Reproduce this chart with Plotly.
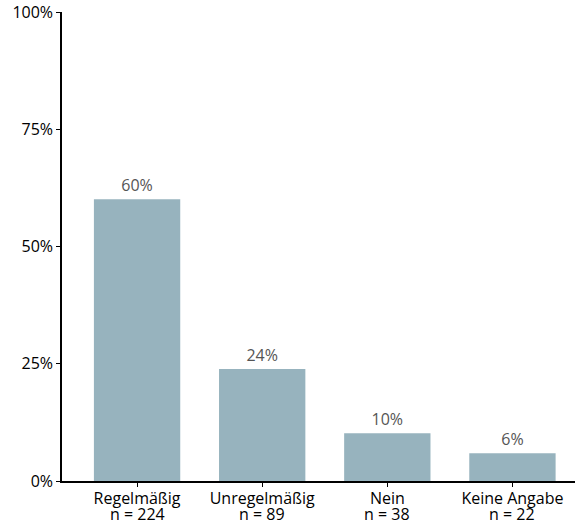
import plotly.graph_objects as go

categories = ["Regelmäßig", "Unregelmäßig", "Nein", "Keine Angabe"]
counts = [224, 89, 38, 22]
shares = [60.05, 23.86, 10.19, 5.90]
share_labels = ["60%", "24%", "10%", "6%"]
y_tickvals = [0, 25, 50, 75, 100]
y_ticktext = ["0%", "25%", "50%", "75%", "100%"]

xpos = list(range(len(categories)))

fig = go.Figure(go.Bar(
    x=xpos,
    y=shares,
    text=share_labels,
    textposition="outside",
    textfont=dict(color="#555555", size=16),
    cliponaxis=False,
    marker=dict(color="#97B3BE", line=dict(width=0)),
    width=0.69,
))

for xi, n in zip(xpos, counts):
    fig.add_annotation(
        x=xi, xref="x", y=0, yref="paper",
        text=f"n = {n}", showarrow=False,
        yanchor="middle", yshift=-33,
        font=dict(size=16, color="black"),
    )

fig.update_layout(
    width=582, height=522,
    margin=dict(l=62, r=7, t=12, b=41),
    paper_bgcolor="white", plot_bgcolor="white",
    font=dict(family="Open Sans, Noto Sans, sans-serif", size=16, color="black"),
    showlegend=False,
)
fig.update_xaxes(
    range=[-0.6, 3.5],
    tickvals=xpos, ticktext=categories,
    showline=True, linecolor="black", linewidth=1.5,
    ticks="outside", ticklen=4, tickcolor="black",
    ticklabelstandoff=-2,
    showgrid=False, zeroline=False, automargin=False,
    tickfont=dict(size=16),
)
fig.update_yaxes(
    range=[0, 100],
    tickvals=y_tickvals, ticktext=y_ticktext,
    showline=True, linecolor="black", linewidth=1.5,
    ticks="outside", ticklen=4, tickcolor="black",
    showgrid=False, zeroline=False, automargin=False,
    tickfont=dict(size=16),
)

fig.write_html("out.html", config={"displayModeBar": False},
               post_script="document.body.style.margin='0';")
